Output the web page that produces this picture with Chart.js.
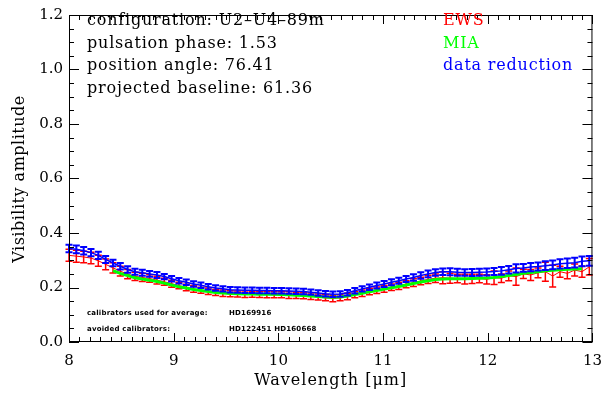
<!DOCTYPE html>
<html>
<head>
<meta charset="utf-8">
<script src="https://cdn.jsdelivr.net/npm/chart.js@4"></script>
<style>
  html, body { margin: 0; padding: 0; background: #fff; }
</style>
</head>
<body>
<canvas id="chart" width="612" height="396"></canvas>
<script>
// wavelength grid in micron
const wavelengths = [
  8.00, 8.07, 8.14, 8.21, 8.28, 8.35, 8.42, 8.49, 8.56, 8.63, 8.70, 8.77, 8.84, 8.91, 8.98,
  9.05, 9.12, 9.19, 9.26, 9.33, 9.40, 9.47, 9.54, 9.61, 9.68, 9.75, 9.82, 9.89, 9.96,
  10.03, 10.10, 10.17, 10.24, 10.31, 10.38, 10.45, 10.52, 10.59, 10.66, 10.73, 10.80, 10.87, 10.94,
  11.01, 11.08, 11.15, 11.22, 11.29, 11.36, 11.43, 11.50, 11.57, 11.64, 11.71, 11.78, 11.85, 11.92, 11.99,
  12.06, 12.13, 12.20, 12.27, 12.34, 12.41, 12.48, 12.55, 12.62, 12.69, 12.76, 12.83, 12.90, 12.97
];

const ewsValues = [
  .318, .315, .312, .308, .298, .285, .272, .260, .249, .241, .237, .233, .227, .221, .214,
  .207, .200, .195, .190, .186, .182, .179, .177, .176, .175, .175, .174, .174, .173,
  .173, .172, .171, .170, .168, .165, .162, .160, .162, .167, .173, .179, .185, .190,
  .195, .201, .206, .212, .218, .224, .230, .234, .236, .234, .233, .231, .232, .233, .230,
  .236, .234, .243, .240, .250, .246, .254, .258, .242, .258, .252, .264, .258, .276
];

const ewsErrors = [
  .022, .022, .021, .021, .020, .020, .019, .018, .017, .015, .015, .014, .014, .013, .013,
  .012, .012, .012, .011, .012, .011, .012, .011, .011, .012, .011, .011, .012, .011,
  .011, .012, .011, .011, .012, .011, .011, .012, .011, .012, .011, .012, .012, .012,
  .012, .012, .013, .013, .014, .014, .015, .016, .022, .018, .016, .018, .017, .016, .017,
  .025, .016, .018, .032, .017, .020, .018, .035, .040, .020, .020, .022, .020, .030
];

// MIA only covers part of the band
const miaValues = [
  null, null, null, null, null, null, .262, .252, .244, .236, .231, .227, .222, .216, .209,
  .203, .198, .193, .189, .185, .182, .180, .178, .177, .176, .176, .175, .175, .175,
  .174, .173, .172, .171, .169, .167, .165, .164, .165, .169, .174, .179, .184, .189,
  .194, .199, .204, .209, .215, .220, .225, .229, .231, .232, .232, .232, .233, .234, .235,
  .237, .240, .244, .248, .252, .255, .258, .261, .263, .265, .267, .268, .269, null
];

const reductionValues = [
  .343, .340, .335, .328, .318, .303, .290, .278, .266, .258, .254, .250, .246, .240, .232,
  .225, .219, .213, .208, .203, .198, .195, .192, .191, .190, .190, .189, .189, .188,
  .188, .187, .186, .185, .183, .180, .177, .175, .176, .181, .188, .195, .201, .207,
  .213, .219, .225, .231, .237, .244, .250, .255, .258, .258, .256, .255, .255, .256, .257,
  .259, .261, .265, .270, .272, .275, .277, .280, .283, .287, .289, .291, .296, .298
];

const reductionErrors = [
  .014, .014, .014, .013, .013, .013, .012, .012, .012, .011, .011, .011, .011, .010, .010,
  .010, .010, .010, .010, .010, .010, .010, .010, .010, .010, .010, .010, .010, .010,
  .010, .010, .010, .010, .010, .010, .010, .010, .010, .010, .010, .010, .010, .011,
  .011, .011, .011, .011, .012, .012, .012, .012, .012, .013, .013, .012, .013, .013, .013,
  .013, .014, .014, .015, .014, .015, .015, .016, .016, .017, .017, .018, .018, .018
];

const xTicks = [8, 9, 10, 11, 12, 13];
const yTicks = [0, 0.2, 0.4, 0.6, 0.8, 1.0, 1.2];

const infoLines = [
  'configuration: U2\u2013U4\u201389m',
  'pulsation phase: 1.53',
  'position angle: 76.41',
  'projected baseline: 61.36'
];
const legendItems = [
  ['EWS', '#ff0000'],
  ['MIA', '#00ff00'],
  ['data reduction', '#0000ff']
];
const calibratorLines = [
  ['calibrators used for average:', 'HD169916'],
  ['avoided calibrators:', 'HD122451 HD160668']
];
const xTitle = 'Wavelength [\u03bcm]';
const yTitle = 'Visibility amplitude';

const serif = '"DejaVu Serif", serif';

const points = (values) => wavelengths
  .map((x, i) => ({ x, y: values[i] }))
  .filter(p => p.y !== null);

// vertical error bars with small caps, drawn right after each dataset
const errorBars = {
  id: 'errorBars',
  afterDatasetDraw(chart, args) {
    const ds = chart.data.datasets[args.index];
    if (!ds.errors) return;
    const { ctx, scales: { x, y } } = chart;
    ctx.save();
    ctx.strokeStyle = ds.borderColor;
    ctx.lineWidth = ds.errorWidth;
    ds.data.forEach((p, i) => {
      const px = x.getPixelForValue(p.x);
      const top = y.getPixelForValue(p.y + ds.errors[i]);
      const bottom = y.getPixelForValue(p.y - ds.errors[i]);
      ctx.beginPath();
      ctx.moveTo(px, top); ctx.lineTo(px, bottom);
      ctx.moveTo(px - 3.5, top); ctx.lineTo(px + 3.5, top);
      ctx.moveTo(px - 3.5, bottom); ctx.lineTo(px + 3.5, bottom);
      ctx.stroke();
    });
    ctx.restore();
  }
};

// box frame with inward ticks on all sides, plus the annotations
const frame = {
  id: 'frame',
  afterDraw(chart) {
    const { ctx, chartArea: a, scales: { x, y } } = chart;
    ctx.save();
    ctx.strokeStyle = '#000';
    ctx.lineWidth = 1;
    ctx.strokeRect(a.left + 0.5, a.top + 0.5, a.right - a.left - 1, a.bottom - a.top - 1);

    ctx.beginPath();
    for (let i = 0; i <= 50; i++) {
      const px = Math.round(x.getPixelForValue(8 + i * 0.1)) + 0.5;
      const len = i % 10 === 0 ? 9 : 5;
      ctx.moveTo(px, a.bottom); ctx.lineTo(px, a.bottom - len);
      ctx.moveTo(px, a.top); ctx.lineTo(px, a.top + len);
    }
    for (let i = 0; i <= 24; i++) {
      const py = Math.round(y.getPixelForValue(i * 0.05)) + 0.5;
      const len = i % 4 === 0 ? 10 : 5;
      ctx.moveTo(a.left, py); ctx.lineTo(a.left + len, py);
      ctx.moveTo(a.right, py); ctx.lineTo(a.right - len, py);
    }
    ctx.stroke();

    ctx.textBaseline = 'middle';
    ctx.letterSpacing = '0.8px';
    ctx.font = '16px ' + serif;
    ctx.fillStyle = '#000';
    infoLines.forEach((t, i) => ctx.fillText(t, 87, 21 + i * 22.5));

    legendItems.forEach(([t, c], i) => {
      ctx.fillStyle = c;
      ctx.fillText(t, 443, 21 + i * 22.5);
    });

    // axis titles
    ctx.fillStyle = '#000';
    ctx.textAlign = 'center';
    ctx.letterSpacing = '1px';
    ctx.fillText(xTitle, (a.left + a.right) / 2, 381);
    ctx.save();
    ctx.letterSpacing = '0.5px';
    ctx.translate(20, 179);
    ctx.rotate(-Math.PI / 2);
    ctx.fillText(yTitle, 0, 0);
    ctx.restore();

    ctx.textAlign = 'left';
    ctx.letterSpacing = '0.2px';
    ctx.font = 'bold 7px "DejaVu Sans", sans-serif';
    calibratorLines.forEach(([label, names], i) => {
      ctx.fillText(label, 87, 313 + i * 16);
      ctx.fillText(names, 229, 313 + i * 16);
    });
    ctx.restore();
  }
};

new Chart(document.getElementById('chart'), {
  type: 'line',
  data: {
    datasets: [
      {
        label: 'EWS', data: points(ewsValues), errors: ewsErrors, errorWidth: 1.5,
        borderColor: '#ff0000', borderWidth: 1, pointRadius: 0, order: 3
      },
      {
        label: 'MIA', data: points(miaValues),
        borderColor: '#00ff00', borderWidth: 3, pointRadius: 0, order: 2
      },
      {
        label: 'data reduction', data: points(reductionValues), errors: reductionErrors, errorWidth: 2,
        borderColor: '#0000ff', borderWidth: 1.5, pointRadius: 0, order: 1
      }
    ]
  },
  options: {
    responsive: false,
    devicePixelRatio: 1,
    animation: false,
    layout: { padding: { top: 6, right: 11, left: 0, bottom: 0 } },
    plugins: { legend: { display: false }, tooltip: { enabled: false } },
    scales: {
      x: {
        type: 'linear', min: 8, max: 13,
        afterBuildTicks: s => { s.ticks = xTicks.map(value => ({ value })); },
        afterFit: s => { s.height = 54; },
        grid: { display: false, drawTicks: false },
        border: { display: false },
        ticks: { color: '#000', font: { family: serif, size: 15 }, padding: 10, maxRotation: 0 }
      },
      y: {
        type: 'linear', min: 0, max: 1.2,
        afterBuildTicks: s => { s.ticks = yTicks.map(value => ({ value })); },
        afterFit: s => { s.width = 69; },
        grid: { display: false, drawTicks: false },
        border: { display: false },
        ticks: { color: '#000', font: { family: serif, size: 15 }, padding: 6, callback: v => v.toFixed(1) }
      }
    }
  },
  plugins: [errorBars, frame]
});
</script>
</body>
</html>
